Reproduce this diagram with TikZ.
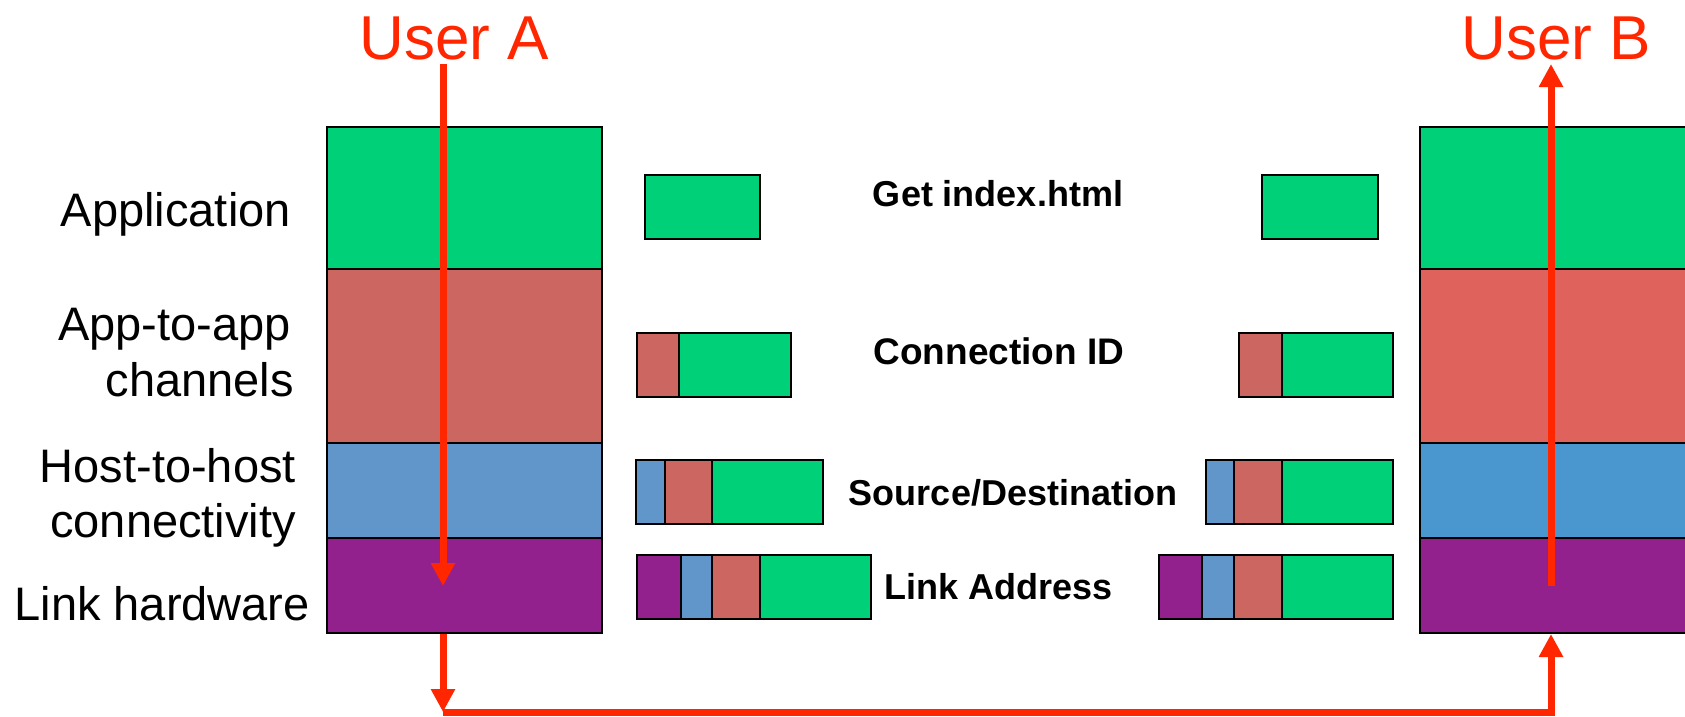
\documentclass[tikz,border=0pt]{standalone}
\usepackage{fontspec}
\setmainfont{Liberation Sans}
\usetikzlibrary{arrows.meta}
\definecolor{appg}{RGB}{0,208,120}
\definecolor{chanL}{RGB}{204,102,96}
\definecolor{chanR}{RGB}{224,98,92}
\definecolor{hostL}{RGB}{96,150,202}
\definecolor{hostR}{RGB}{74,150,206}
\definecolor{linkp}{RGB}{146,33,142}
\definecolor{arrowred}{RGB}{255,38,0}
\begin{document}
\begin{tikzpicture}[x=1pt,y=-1pt,
  layer/.style={draw=black, line width=2.5pt, inner sep=0pt, outer sep=0pt, anchor=north west},
  seg/.style={draw=black, line width=2pt, inner sep=0pt, outer sep=0pt, anchor=north west, minimum height=64pt},
  lbl/.style={anchor=base east, inner sep=0pt, font=\fontsize{47}{56}\selectfont},
  hdr/.style={anchor=base, inner sep=0pt, font=\bfseries\fontsize{36}{43}\selectfont},
  usr/.style={anchor=base, inner sep=0pt, text=arrowred, font=\fontsize{62}{74}\selectfont},
  flow/.style={draw=arrowred, line width=7pt, line join=miter},
  flowarr/.style={flow, -{Triangle[length=23pt,width=23pt]}}
]
\useasboundingbox (0,0) rectangle (1685,716);
\clip (0,0) rectangle (1685,716);

% left stack
\node[layer, fill=appg,  minimum width=275pt, minimum height=142pt] (lapp)  at (327,127) {};
\node[layer, fill=chanL, minimum width=275pt, minimum height=174pt] (lchan) at (327,269) {};
\node[layer, fill=hostL, minimum width=275pt, minimum height=95pt]  (lhost) at (327,443) {};
\node[layer, fill=linkp, minimum width=275pt, minimum height=95pt]  (llink) at (327,538) {};

% right stack
\node[layer, fill=appg,  minimum width=290pt, minimum height=142pt] (rapp)  at (1420,127) {};
\node[layer, fill=chanR, minimum width=290pt, minimum height=174pt] (rchan) at (1420,269) {};
\node[layer, fill=hostR, minimum width=290pt, minimum height=95pt]  (rhost) at (1420,443) {};
\node[layer, fill=linkp, minimum width=290pt, minimum height=95pt]  (rlink) at (1420,538) {};

% layer labels
\node[lbl] (t1)  at (291,226) {Application};
\node[lbl] (t2a) at (291,340) {App-to-app};
\node[lbl] (t2b) at (294,396) {channels};
\node[lbl] (t3a) at (296,482) {Host-to-host};
\node[lbl] (t3b) at (296,537) {connectivity};
\node[lbl] (t4)  at (310,620) {Link hardware};

% packets row 1
\node[seg, fill=appg, minimum width=115pt] (p1lg) at (645,175) {};
\node[seg, fill=appg, minimum width=116pt] (p1rg) at (1262,175) {};
% row 2
\node[seg, fill=chanL, minimum width=42pt]  (p2lr) at (637,333) {};
\node[seg, fill=appg,  minimum width=112pt] (p2lg) at (679,333) {};
\node[seg, fill=chanL, minimum width=43pt]  (p2rr) at (1239,333) {};
\node[seg, fill=appg,  minimum width=111pt] (p2rg) at (1282,333) {};
% row 3
\node[seg, fill=hostL, minimum width=29pt]  (p3lb) at (636,460) {};
\node[seg, fill=chanL, minimum width=47pt]  (p3lr) at (665,460) {};
\node[seg, fill=appg,  minimum width=111pt] (p3lg) at (712,460) {};
\node[seg, fill=hostL, minimum width=28pt]  (p3rb) at (1206,460) {};
\node[seg, fill=chanL, minimum width=48pt]  (p3rr) at (1234,460) {};
\node[seg, fill=appg,  minimum width=111pt] (p3rg) at (1282,460) {};
% row 4
\node[seg, fill=linkp, minimum width=44pt]  (p4lp) at (637,555) {};
\node[seg, fill=hostL, minimum width=31pt]  (p4lb) at (681,555) {};
\node[seg, fill=chanL, minimum width=48pt]  (p4lr) at (712,555) {};
\node[seg, fill=appg,  minimum width=111pt] (p4lg) at (760,555) {};
\node[seg, fill=linkp, minimum width=43pt]  (p4rp) at (1159,555) {};
\node[seg, fill=hostL, minimum width=32pt]  (p4rb) at (1202,555) {};
\node[seg, fill=chanL, minimum width=48pt]  (p4rr) at (1234,555) {};
\node[seg, fill=appg,  minimum width=111pt] (p4rg) at (1282,555) {};

% header labels
\node[hdr] (h1) at (998,206) {Get index.html};
\node[hdr, font=\bfseries\fontsize{37}{44}\selectfont] (h2) at (999,364) {Connection ID};
\node[hdr] (h3) at (1013,505) {Source/Destination};
\node[hdr] (h4) at (999,599) {Link Address};

% users
\node[usr] (ua) at (454,59) {User A};
\node[usr] (ub) at (1556,59) {User B};

% flow
\coordinate (a0) at (443,64);
\coordinate (a1) at (443,586);
\coordinate (a2) at (443,634);
\coordinate (a3) at (443,712);
\coordinate (b3) at (1551,634);
\coordinate (b1) at (1551,586);
\coordinate (b0) at (1551,64);
\draw[flowarr] (a0) -- (a1);
\draw[flowarr] (a2) -- (a3);
\draw[flowarr] (a3) -| (b3);
\draw[flowarr] (b1) -- (b0);
\end{tikzpicture}
\end{document}
